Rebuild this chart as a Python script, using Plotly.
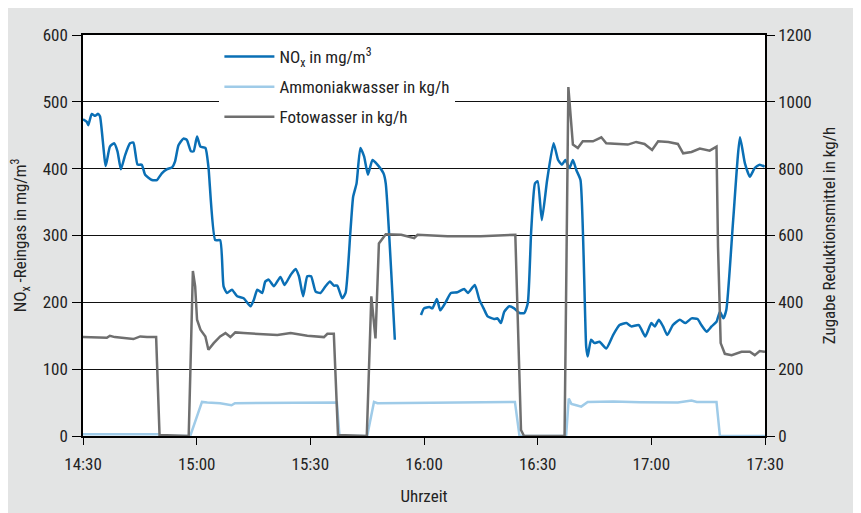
import pandas as pd
import plotly.graph_objects as go

# minutes after 14:30 and values
nox_min = [0, 1, 1.4, 2.3, 3.2, 4, 4.5, 6, 7.1, 8.2, 9.1, 10, 11.1, 12.4, 13.3, 14.4, 15.5, 16.4,
           18.2, 19.5, 20.8, 22.1, 23.5, 24.3, 25.2, 26.5, 27.4, 28.5, 29.2, 30.1, 31, 32.3, 33.1,
           34.9, 36.2, 37.1, 38, 39.3, 40.7, 42.4, 44.2, 45.1, 46, 47.3, 48.1, 49, 50.4, 52.1, 53.2,
           54.8, 56.1, 57, 58.1, 59.2, 60.2, 61.4, 62.7, 64, 65.2, 66.2, 67.1, 68.4, 69.3, 70.6,
           71.3, 72.2, 73.2, 74.2, 75.2, 76.4, 77.7, 79.3, 79.9, 82.3, 85, 89.2, 90, 91.4, 92.2,
           93.4, 94.3, 95.8, 97.1, 98.8, 100.6, 101.6, 103.4, 104.6, 105.9, 106.8, 108.5, 109.4,
           110.3, 111.2, 112.5, 113.8, 115.2, 116.5, 117.4, 118.3, 119.3, 120, 121.1, 122.5, 124.2,
           125.4, 126.4, 127.3, 128.4, 129.3, 130.2, 131.3, 132.8, 133.2, 134.1, 135, 136.3, 138.1,
           139.9, 141.6, 143.4, 144.7, 146.7, 148.4, 150, 150.9, 152, 153.1, 154.2, 155.7, 157.5,
           159, 160.6, 162.2, 163.2, 164.6, 165.9, 167.2, 168.1, 169, 169.8, 171.6, 173.4, 174.7,
           176, 177.3, 178.6, 179.9]
nox_val = [474, 470, 465, 482, 479, 482, 478, 404, 433, 438, 426, 399, 420, 438, 439, 406, 406, 391,
           383, 383, 393, 399, 402, 411, 435, 445, 443, 426, 426, 448, 433, 431, 403,
           293, 293, 224, 214, 219, 209, 206, 194, 204, 219, 214, 231, 234, 224, 238, 226,
           241, 250, 239, 209, 239, 239, 216, 214, 224, 231, 225, 225, 206, 214, 308,
           358, 378, 431, 418, 391, 413, 406, 393, 378, 144, None, 181, 191, 193, 191,
           205, 188, 201, 214, 215, 220, 214, 226, 204, 189, 179, 175, 176,
           169, 186, 194, 191, 184, 184, 199, 308, 378, 381, 323, 383, 438,
           413, 406, 413, 401, 413, 398, 383, 134, 119, 144, 139, 141, 131,
           151, 166, 169, 164, 166, 149, 169, 164, 174, 164, 151, 166, 174,
           169, 176, 175, 166, 156, 164, 171, 186, 176, 189, 323, 447, 408,
           388, 401, 406, 403]

ammoniak_min = [0, 20, 20.3, 28.3, 31.4, 32.8, 36.2, 38.4, 39.2, 40.1, 46.8, 53, 59.2, 63, 67, 67.7,
                75, 76.8, 77.7, 85, 96, 105, 114, 115.2, 127.5, 128.2, 128.9, 130.2, 131.5, 133.2,
                140, 147, 153, 157, 160.6, 162, 167.2, 168.1, 180]
ammoniak_kgh = [5, 5, 0, 0, 102, 100, 98, 94, 92, 98, 98, 98, 100, 98, 100, 0,
                0, 102, 98, 99, 100, 100, 102, 0, 0, 112, 96, 92, 88, 102,
                103, 101, 100, 100, 106, 102, 102, 0, 0]

foto_min = [0, 6.3, 7.1, 8.4, 13.3, 15.1, 16.9, 19.3, 20.2, 27.9, 28.3, 28.6, 29, 29.6, 30.1, 31,
            32.3, 33.1, 34.5, 36.2, 37.6, 38.9, 40.2, 42.4, 46.8, 51.3, 54.8, 59.2, 63.6, 64.5,
            66.2, 67.3, 74.9, 76.1, 77.2, 78.1, 79.9, 80.9, 84, 87.4, 88.3, 96.2, 105, 114.1,
            115.6, 116.4, 127.1, 128.1, 129.3, 130.6, 131.9, 134.6, 136.8, 138.1, 141.2, 143.8,
            146, 148.2, 150.2, 151.8, 154.5, 157, 158.4, 160.6, 162.8, 165.4, 167.2, 167.6, 168.3,
            169.4, 171.2, 173.8, 176, 177.3, 178.6, 180]
foto_kgh = [296, 294, 300, 296, 290, 298, 296, 296, 3, 0, 178, 288, 494, 448, 348, 318,
            298, 258, 278, 298, 308, 296, 310, 308, 306, 302, 308, 300, 296, 306,
            306, 3, 0, 418, 292, 576, 604, 604, 602, 592, 602, 598, 598, 602,
            18, 0, 0, 1044, 872, 862, 882, 882, 894, 876, 874, 872,
            880, 874, 856, 882, 880, 874, 846, 850, 860, 854, 866, 566, 278,
            246, 242, 252, 252, 242, 254, 252]

start = pd.Timestamp("2024-01-01 14:30")


def to_time(mins):
    return [start + pd.Timedelta(minutes=m) for m in mins]


FONT = "Liberation Sans Narrow, Roboto Condensed, DejaVu Sans Condensed, Arial Narrow, sans-serif"

fig = go.Figure()
fig.add_trace(go.Scatter(
    x=to_time(nox_min), y=nox_val, mode="lines", name="NO<sub>x</sub> in mg/m<sup>3</sup>",
    line=dict(color="#0a6fb5", width=2.5, shape="spline", smoothing=0.5),
    connectgaps=False, legendgroup="a"))
fig.add_trace(go.Scatter(
    x=to_time(ammoniak_min), y=ammoniak_kgh, mode="lines", name="Ammoniakwasser in kg/h",
    line=dict(color="#9fcbe8", width=2.5), yaxis="y2", legendgroup="b"))
fig.add_trace(go.Scatter(
    x=to_time(foto_min), y=foto_kgh, mode="lines", name="Fotowasser in kg/h",
    line=dict(color="#6f6f6f", width=2.5), yaxis="y2", legendgroup="c"))

axis_font = dict(family=FONT, size=17, color="#222")

fig.update_layout(
    width=861, height=513,
    margin=dict(l=75, r=104, t=27, b=85, autoexpand=False),
    paper_bgcolor="#e3e4e4", plot_bgcolor="white",
    font=dict(family=FONT, size=17, color="#222"),
    showlegend=True,
    legend=dict(x=0.2, y=0.99, xanchor="left", yanchor="top", bgcolor="white",
                font=dict(family=FONT, size=17, color="#222"), tracegroupgap=5,
                itemwidth=50),
    xaxis=dict(
        range=[start, start + pd.Timedelta(minutes=180)], tickformat="%H:%M",
        dtick=30 * 60 * 1000, tick0=start, ticks="outside", ticklen=7, tickcolor="black",
        showline=True, linecolor="black", linewidth=1.5, showgrid=False, mirror=True,
        tickfont=axis_font, ticklabelstandoff=5, automargin=False,
        title=dict(text="Uhrzeit", font=axis_font, standoff=17)),
    yaxis=dict(
        range=[0, 600], dtick=100, ticks="outside", ticklen=9, tickcolor="black",
        showline=True, linecolor="black", linewidth=1.5, gridcolor="#111", gridwidth=1,
        zeroline=False, tickfont=axis_font, ticklabelstandoff=1, automargin=False,
        title=dict(text="NO<sub>x</sub> -Reingas in mg/m<sup>3</sup>", font=axis_font, standoff=13)),
    yaxis2=dict(
        range=[0, 1200], dtick=200, overlaying="y", side="right", ticks="outside", ticklen=8,
        tickcolor="black", showline=True, linecolor="black", linewidth=1.5, showgrid=False,
        zeroline=False, tickfont=axis_font, ticklabelstandoff=0, automargin=False,
        title=dict(text="Zugabe Reduktionsmittel in kg/h", font=axis_font, standoff=12)),
)

fig.write_html("out.html")
